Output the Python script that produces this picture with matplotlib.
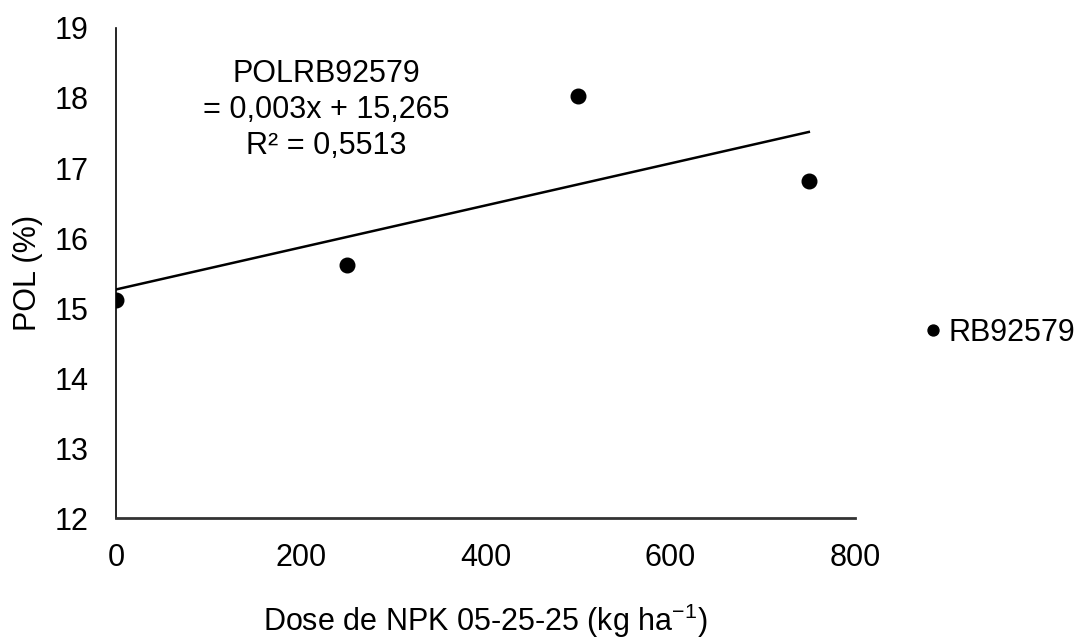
import matplotlib.pyplot as plt
import numpy as np

plt.rcParams['font.family'] = ['Liberation Sans', 'DejaVu Sans']
plt.rcParams['mathtext.default'] = 'regular'

# data
doses = [0, 250, 500, 750]
pol = [15.11, 15.61, 18.03, 16.81]
series_name = "RB92579"

# Excel trendline as printed on the chart
slope = 0.003
intercept = 15.265
r2_text = "0,5513"

fs = 22

fig = plt.figure(figsize=(10.86, 6.42), dpi=100)
ax = fig.add_axes([0.1068, 0.1931, 0.6805, 0.7633])

ax.plot(doses, pol, "o", color="black", markersize=10.5, label=series_name, zorder=3)

x_fit = np.array([min(doses), max(doses)])
ax.plot(x_fit, slope * x_fit + intercept, color="black", linewidth=1.8, zorder=2)

ax.text(228, 17.83, "POLRB92579\n= 0,003x + 15,265\nR² = " + r2_text,
        ha="center", va="center", fontsize=fs, linespacing=1.27)

ax.set_xlim(0, 800)
ax.set_ylim(12, 19)
ax.set_xticks([0, 200, 400, 600, 800])
ax.set_yticks(range(12, 20))
ax.tick_params(length=0, labelsize=fs)
ax.tick_params(axis="x", pad=18)
ax.tick_params(axis="y", pad=20)

for s in ["top", "right"]:
    ax.spines[s].set_visible(False)
ax.spines["left"].set_linewidth(1.2)
ax.spines["bottom"].set_linewidth(2.0)
ax.spines["bottom"].set_color("#333333")

ax.set_xlabel("Dose de NPK 05-25-25 (kg ha$^{-1}$)", fontsize=fs, labelpad=21)
ax.set_ylabel("POL (%)", fontsize=fs, labelpad=8)

fig.legend(loc="center left", bbox_to_anchor=(0.821, 0.482), frameon=False,
           fontsize=fs, handletextpad=0.05, handlelength=0.9, markerscale=0.75)

fig.savefig("out.png", dpi=100)
